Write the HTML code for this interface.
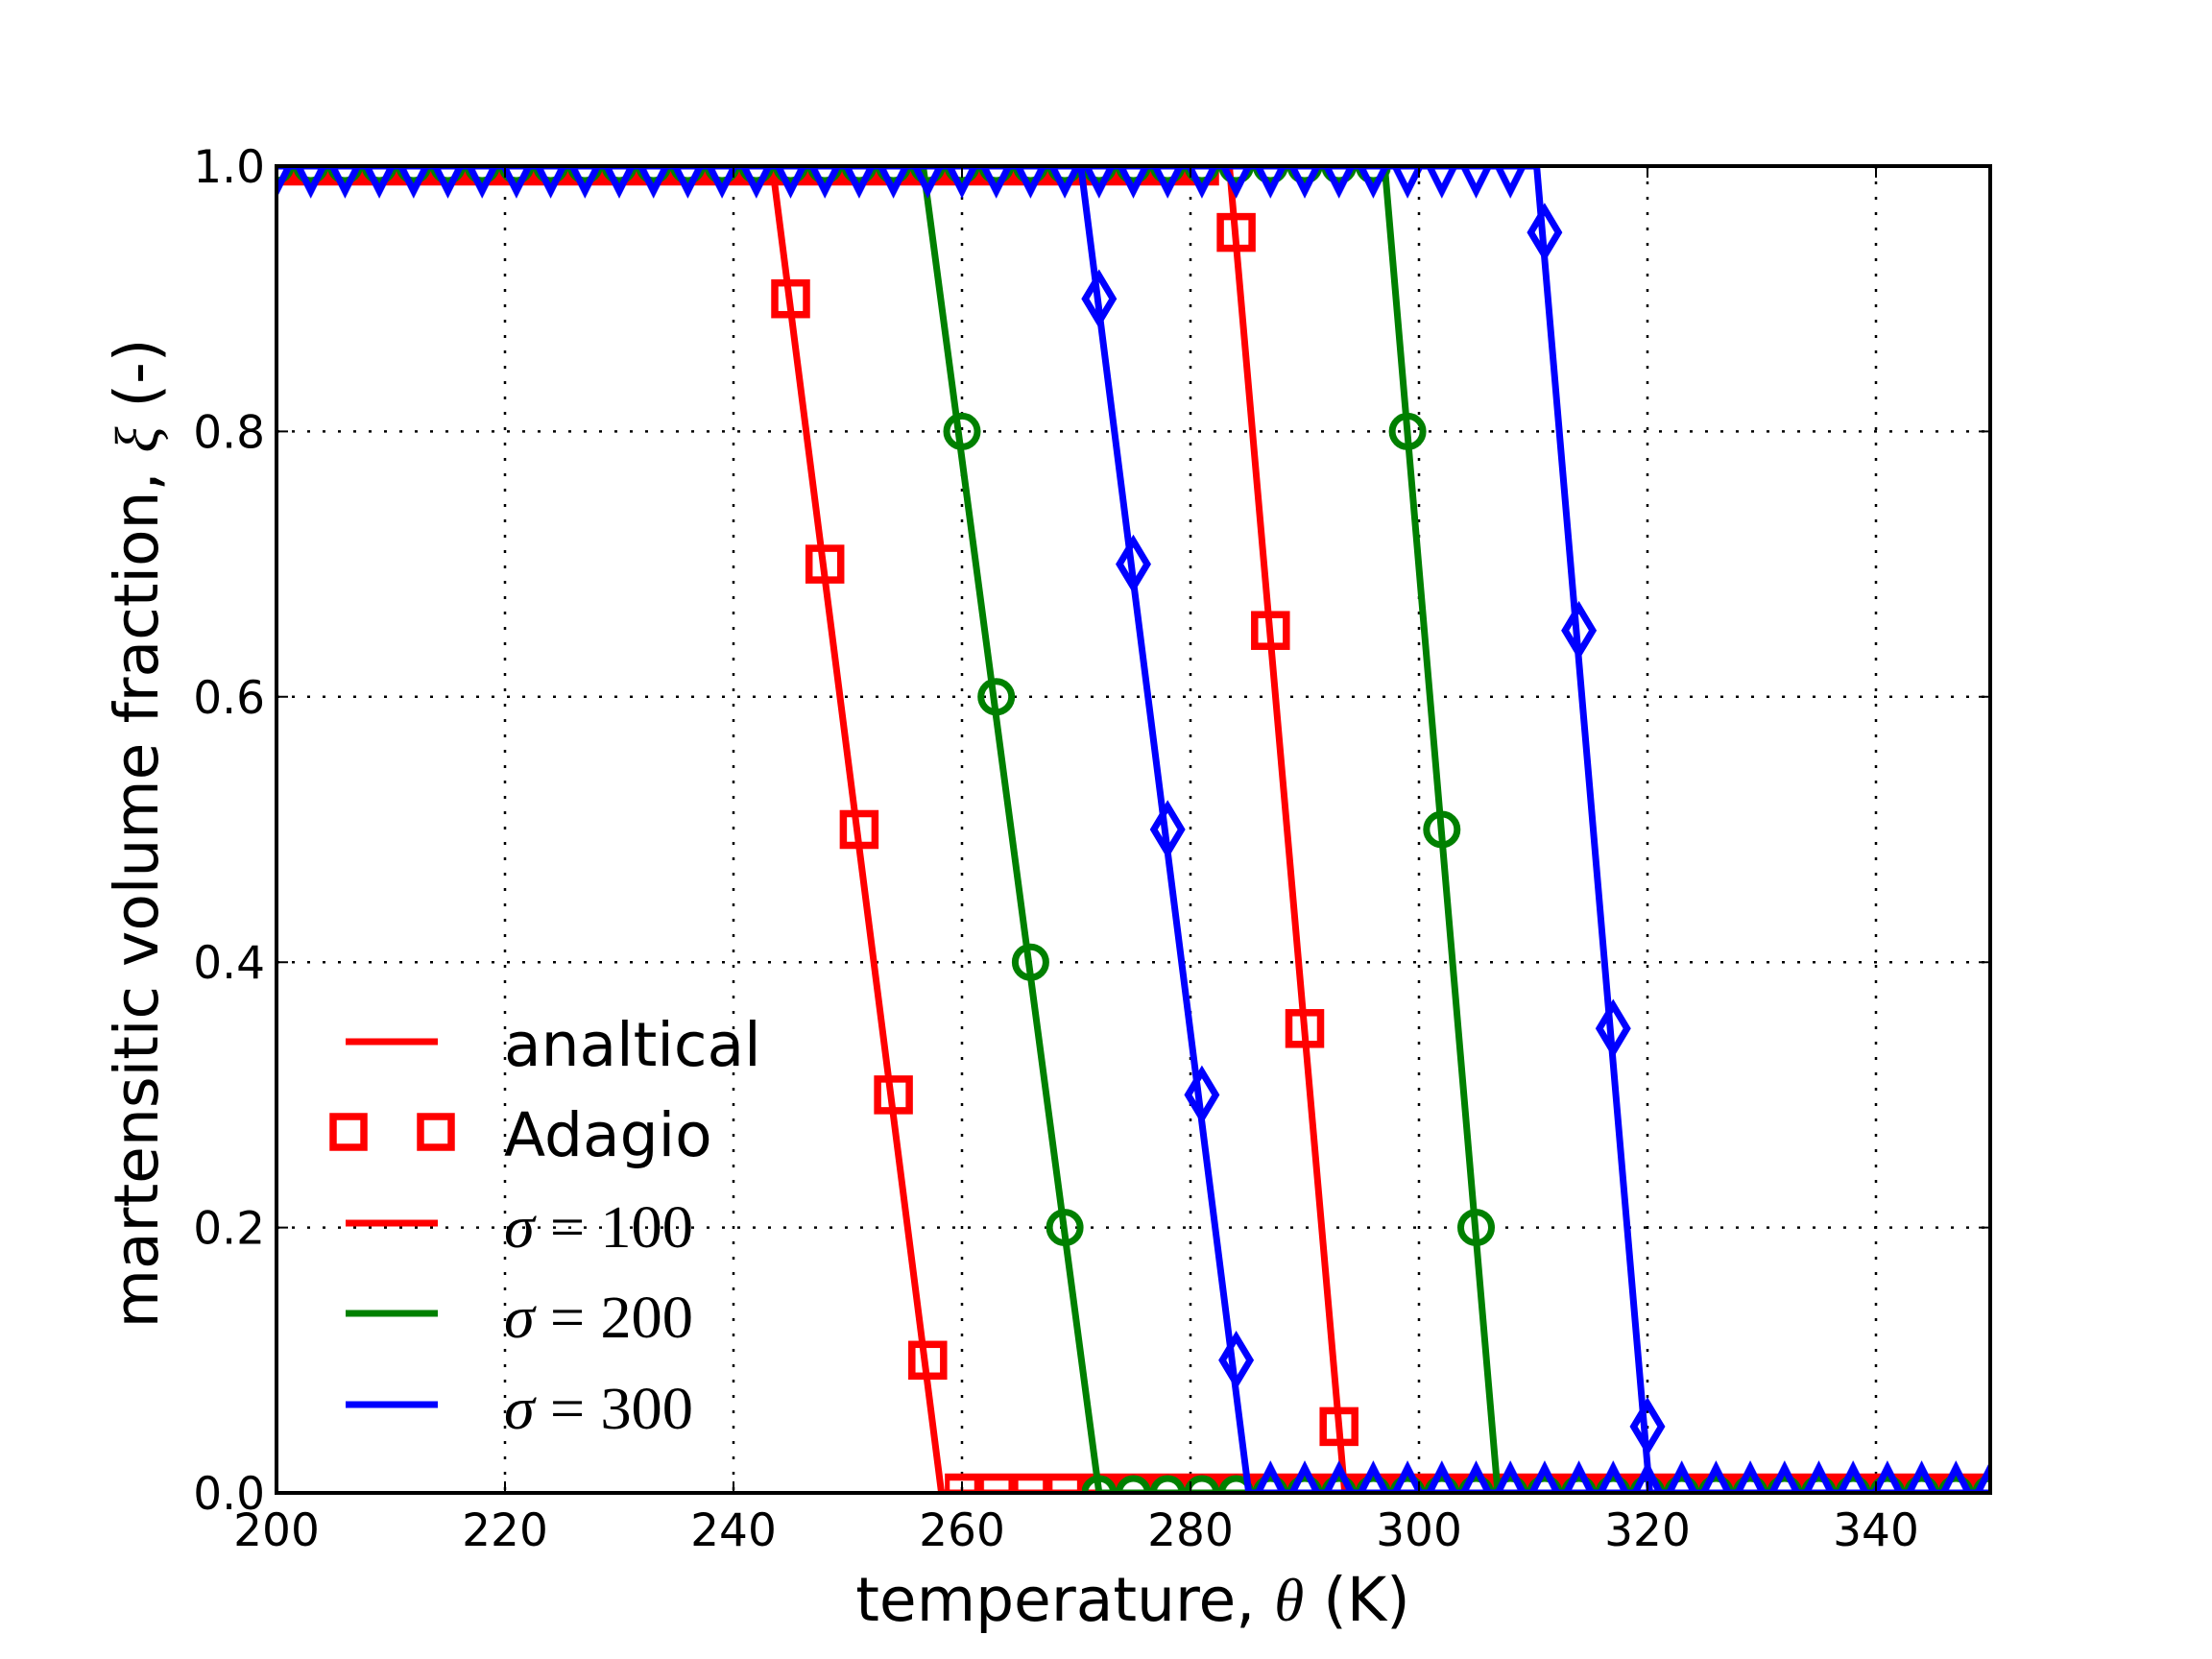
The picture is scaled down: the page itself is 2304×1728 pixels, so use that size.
<!DOCTYPE html>
<html><head><meta charset="utf-8"><style>html,body{margin:0;padding:0;background:#fff}svg{display:block}</style></head>
<body>
<svg width="2304" height="1728" viewBox="0 0 2304 1728" xmlns="http://www.w3.org/2000/svg">
<defs>
<clipPath id="ax"><rect x="288" y="173" width="1785" height="1382"/></clipPath>
<pattern id="psqT" patternUnits="userSpaceOnUse" x="270.15" y="143" width="35.7" height="60"><rect x="1.35" y="13.5" width="33" height="33" fill="none" stroke="#f00" stroke-width="7.5"/></pattern>
<pattern id="psqB" patternUnits="userSpaceOnUse" x="270.15" y="1525" width="35.7" height="60"><rect x="1.35" y="13.5" width="33" height="33" fill="none" stroke="#f00" stroke-width="7.5"/></pattern>
<pattern id="pciT" patternUnits="userSpaceOnUse" x="270.15" y="143" width="35.7" height="60"><circle cx="17.85" cy="30" r="15" fill="none" stroke="#008000" stroke-width="7"/></pattern>
<pattern id="pciB" patternUnits="userSpaceOnUse" x="270.15" y="1525" width="35.7" height="60"><circle cx="17.85" cy="30" r="15" fill="none" stroke="#008000" stroke-width="7"/></pattern>
<pattern id="ptrD" patternUnits="userSpaceOnUse" x="270.15" y="143" width="35.7" height="70"><polygon points="17.85,56 -7.15,6 42.85,6" fill="none" stroke="#00f" stroke-width="7" stroke-linejoin="miter"/></pattern>
<pattern id="ptrU" patternUnits="userSpaceOnUse" x="270.15" y="1485" width="35.7" height="70"><polygon points="17.85,44 -7.15,94 42.85,94" fill="none" stroke="#00f" stroke-width="7" stroke-linejoin="miter"/></pattern>
<rect id="sq" x="-16.5" y="-16.5" width="33" height="33" fill="none" stroke="#f00" stroke-width="7.5"/>
<circle id="ci" cx="0" cy="0" r="16" fill="none" stroke="#008000" stroke-width="7"/>
<polygon id="di" points="0,-24 14.4,0 0,24 -14.4,0" fill="none" stroke="#00f" stroke-width="7"/>
</defs>

<g stroke="#000" stroke-width="2.5" stroke-dasharray="3 13" fill="none">
<line x1="526" y1="173" x2="526" y2="1555"/><line x1="764" y1="173" x2="764" y2="1555"/>
<line x1="1002" y1="173" x2="1002" y2="1555"/><line x1="1240" y1="173" x2="1240" y2="1555"/>
<line x1="1478" y1="173" x2="1478" y2="1555"/><line x1="1716" y1="173" x2="1716" y2="1555"/>
<line x1="1954" y1="173" x2="1954" y2="1555"/>
<line x1="288" y1="449.4" x2="2073" y2="449.4"/><line x1="288" y1="725.8" x2="2073" y2="725.8"/>
<line x1="288" y1="1002.2" x2="2073" y2="1002.2"/><line x1="288" y1="1278.6" x2="2073" y2="1278.6"/>
</g>

<g clip-path="url(#ax)">
<g fill="none" stroke="#f00" stroke-width="7" stroke-linejoin="round">
<polyline points="288,173 804.5,173 980.6,1555 2073,1555"/>
<polyline points="288,173 1280.5,173 1400.7,1555 2073,1555"/>
</g>
<rect x="270" y="143" width="999.75" height="60" fill="url(#psqT)"/>
<rect x="984.15" y="1525" width="1110" height="60" fill="url(#psqB)"/>
<use href="#sq" x="823.5" y="311.2"/><use href="#sq" x="859.2" y="587.6"/><use href="#sq" x="894.9" y="864"/><use href="#sq" x="930.6" y="1140.4"/><use href="#sq" x="966.3" y="1416.8"/>
<use href="#sq" x="1287.6" y="242.1"/><use href="#sq" x="1323.3" y="656.7"/><use href="#sq" x="1359" y="1071.3"/><use href="#sq" x="1394.7" y="1485.9"/>
<g fill="none" stroke="#008000" stroke-width="7" stroke-linejoin="round">
<polyline points="288,173 961.5,173 1144.8,1555 2073,1555"/>
<polyline points="288,173 1442.3,173 1560.1,1555 2073,1555"/>
</g>
<rect x="270" y="143" width="1178.25" height="60" fill="url(#pciT)"/>
<rect x="1126.95" y="1525" width="967" height="60" fill="url(#pciB)"/>
<use href="#ci" x="1002" y="449.4"/><use href="#ci" x="1037.7" y="725.8"/><use href="#ci" x="1073.4" y="1002.2"/><use href="#ci" x="1109.1" y="1278.6"/>
<use href="#ci" x="1466.1" y="449.4"/><use href="#ci" x="1501.8" y="864"/><use href="#ci" x="1537.5" y="1278.6"/>
<g fill="none" stroke="#00f" stroke-width="7" stroke-linejoin="round">
<polyline points="288,173 1125.8,173 1300.7,1555 2073,1555"/>
<polyline points="288,173 1600.6,173 1718.4,1555 2073,1555"/>
</g>
<rect x="270" y="143" width="1321.05" height="70" fill="url(#ptrD)"/>
<rect x="1305.45" y="1485" width="790" height="70" fill="url(#ptrU)"/>
<use href="#di" x="1144.8" y="311.2"/><use href="#di" x="1180.5" y="587.6"/><use href="#di" x="1216.2" y="864"/><use href="#di" x="1251.9" y="1140.4"/><use href="#di" x="1287.6" y="1416.8"/>
<use href="#di" x="1608.9" y="242.1"/><use href="#di" x="1644.6" y="656.7"/><use href="#di" x="1680.3" y="1071.3"/><use href="#di" x="1716" y="1485.9"/>
</g>

<g stroke="#000" stroke-width="2">
<path d="M526,1555v-12M764,1555v-12M1002,1555v-12M1240,1555v-12M1478,1555v-12M1716,1555v-12M1954,1555v-12"/>
<path d="M526,173v12M764,173v12M1002,173v12M1240,173v12M1478,173v12M1716,173v12M1954,173v12"/>
<path d="M288,449.4h12M288,725.8h12M288,1002.2h12M288,1278.6h12"/>
<path d="M2073,449.4h-12M2073,725.8h-12M2073,1002.2h-12M2073,1278.6h-12"/>
</g>
<rect x="288" y="173" width="1785" height="1382" fill="none" stroke="#000" stroke-width="4"/>

<g font-family="DejaVu Sans, Liberation Sans, sans-serif" font-size="47" fill="#000">
<g text-anchor="middle">
<text x="288" y="1610">200</text><text x="526" y="1610">220</text><text x="764" y="1610">240</text>
<text x="1002" y="1610">260</text><text x="1240" y="1610">280</text><text x="1478" y="1610">300</text>
<text x="1716" y="1610">320</text><text x="1954" y="1610">340</text>
</g>
<g text-anchor="end">
<text x="276" y="1572">0.0</text><text x="276" y="1295.6">0.2</text><text x="276" y="1019.2">0.4</text>
<text x="276" y="742.8">0.6</text><text x="276" y="466.4">0.8</text><text x="276" y="190">1.0</text>
</g>
</g>

<text x="1180" y="1688" text-anchor="middle" font-family="DejaVu Sans, Liberation Sans, sans-serif" font-size="63">temperature, <tspan font-family="Liberation Serif, serif" font-style="italic">θ</tspan> (K)</text>
<text transform="translate(164,868) rotate(-90)" text-anchor="middle" font-family="DejaVu Sans, Liberation Sans, sans-serif" font-size="63">martensitic volume fraction, <tspan font-family="Liberation Serif, serif" font-style="italic">ξ</tspan> (-)</text>

<g stroke-width="7" fill="none">
<line x1="360" y1="1085" x2="456" y2="1085" stroke="#f00"/>
<rect x="347" y="1163" width="32" height="32" stroke="#f00" stroke-width="7.5"/>
<rect x="438" y="1163" width="32" height="32" stroke="#f00" stroke-width="7.5"/>
<line x1="360" y1="1274" x2="456" y2="1274" stroke="#f00"/>
<line x1="360" y1="1368" x2="456" y2="1368" stroke="#008000"/>
<line x1="360" y1="1463" x2="456" y2="1463" stroke="#00f"/>
</g>
<g font-family="DejaVu Sans, Liberation Sans, sans-serif" font-size="63" fill="#000">
<text x="525" y="1110">analtical</text>
<text x="525" y="1204">Adagio</text>
</g>
<g font-family="Liberation Serif, DejaVu Serif, serif" font-size="62" fill="#000">
<text x="525" y="1299" textLength="197" lengthAdjust="spacingAndGlyphs"><tspan font-style="italic">σ</tspan> = 100</text>
<text x="525" y="1393" textLength="197" lengthAdjust="spacingAndGlyphs"><tspan font-style="italic">σ</tspan> = 200</text>
<text x="525" y="1488" textLength="197" lengthAdjust="spacingAndGlyphs"><tspan font-style="italic">σ</tspan> = 300</text>
</g>
</svg>
</body></html>
